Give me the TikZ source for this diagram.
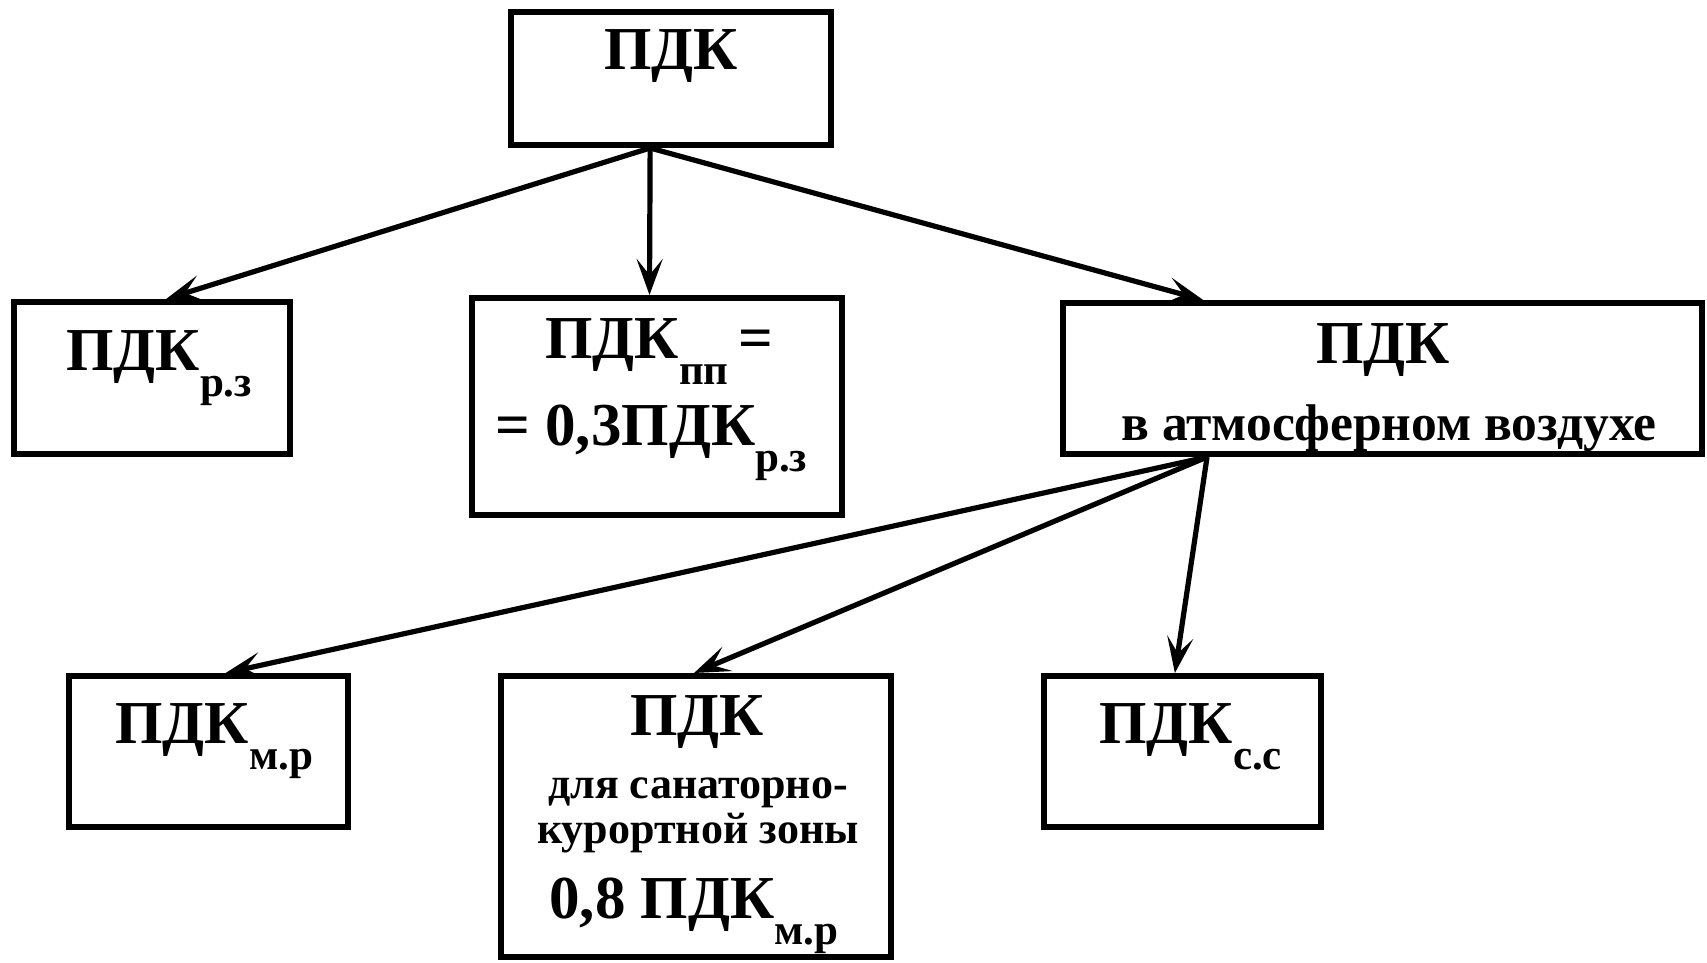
\documentclass[tikz,border=0pt]{standalone}
\usepackage{fontspec}
\setmainfont{Liberation Serif}
\usetikzlibrary{arrows.meta,calc}
\newcommand\lowsub[1]{\raisebox{-13pt}{\fontsize{21.5}{23}\selectfont #1}}
\begin{document}
\begin{tikzpicture}[x=0.5pt,y=-0.5pt,
  box/.style={draw,line width=3pt,inner sep=0pt,rectangle},
  arr/.style={line width=2.6pt,-{Stealth[length=18pt,width=13pt,inset=8pt]}},
  txt/.style={inner sep=0pt,font=\bfseries\fontsize{30.5}{34}\selectfont},
  small/.style={inner sep=0pt,font=\bfseries\fontsize{25.8}{28}\selectfont},
  smaller/.style={inner sep=0pt,font=\bfseries\fontsize{22}{24}\selectfont}]
\useasboundingbox (0,0) rectangle (1707,963);
% boxes
\node[box,minimum width=160pt,minimum height=66.5pt] (top) at (671,78.5) {};
\node[box,minimum width=138pt,minimum height=76pt] (rz) at (152,378) {};
\node[box,minimum width=185pt,minimum height=108.5pt] (pp) at (657,406.5) {};
\node[box,minimum width=319.5pt,minimum height=75.5pt] (atm) at (1382.5,378.5) {};
\node[box,minimum width=139.5pt,minimum height=75.5pt] (mr) at (208.5,751.5) {};
\node[box,minimum width=195pt,minimum height=140.5pt] (san) at (696,816.5) {};
\node[box,minimum width=138.5pt,minimum height=75.5pt] (cc) at (1182.5,751.5) {};
% texts
\node[txt,anchor=base] (t0) at (671,70) {ПДК};
\node[txt,anchor=base west] (t1) at (66,370) {ПДК\lowsub{р.з}};
\node[txt,anchor=base west] (t2a) at (545,358) {ПДК\lowsub{пп}\,=};
\node[txt,anchor=base west] (t2b) at (495,445) {= 0,3ПДК\lowsub{р.з}};
\node[txt,anchor=base] (t3a) at (1383,363) {ПДК};
\node[small,anchor=base] (t3b) at (1389,440) {в атмосферном воздухе};
\node[txt,anchor=base west] (t4) at (115,743) {ПДК\lowsub{м.р}};
\node[txt,anchor=base] (t5a) at (697,735) {ПДК};
\node[smaller,anchor=base] (t5b) at (698,798) {для санаторно-};
\node[smaller,anchor=base] (t5c) at (698,843) {курортной зоны};
\node[txt,anchor=base west] (t5d) at (549,918) {0,8 ПДК\lowsub{м.р}};
\node[txt,anchor=base west] (t6) at (1099,743) {ПДК\lowsub{с.с}};
% connector ends
\coordinate (topout) at ($(top.south west)!0.436!(top.south east)$);
\coordinate (atmout) at ($(atm.south west)!0.228!(atm.south east)$);
\coordinate (rzin) at ($(rz.north west)!0.55!(rz.north east)$);
\coordinate (ppin) at ($(pp.north west)!0.48!(pp.north east)$);
\coordinate (atmin) at ($(atm.north west)!0.222!(atm.north east)$);
\coordinate (mrin) at ($(mr.north west)!0.56!(mr.north east)$);
\coordinate (sanin) at ($(san.north west)!0.495!(san.north east)$);
\coordinate (ccin) at ($(cc.north west)!0.473!(cc.north east)$);
% connectors
\draw[arr] (topout) -- (rzin);
\draw[arr] (topout) -- (ppin);
\draw[arr] (topout) -- (atmin);
\draw[arr] (atmout) -- (mrin);
\draw[arr] (atmout) -- (sanin);
\draw[arr] (atmout) -- (ccin);
\end{tikzpicture}
\end{document}
